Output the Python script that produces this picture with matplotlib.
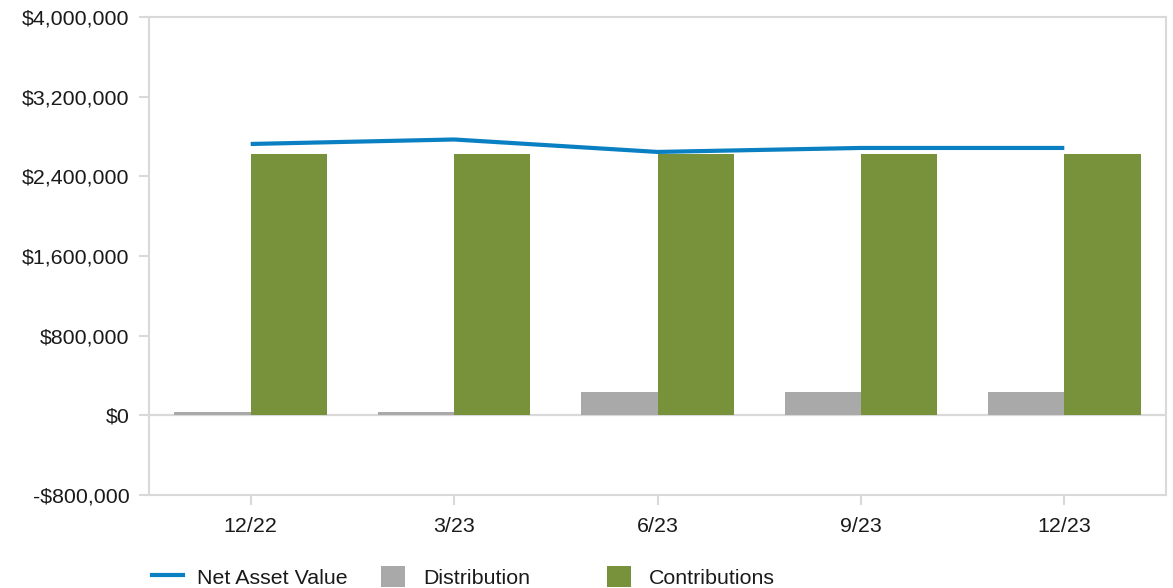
import matplotlib
matplotlib.use("Agg")
import matplotlib.pyplot as plt
from matplotlib.lines import Line2D
from matplotlib.patches import Patch
from matplotlib.ticker import FuncFormatter

# Quarterly fund figures
quarters = ["12/22", "3/23", "6/23", "9/23", "12/23"]
net_asset_value = [2725000, 2770000, 2645000, 2685000, 2685000]
distribution = [35000, 35000, 235000, 235000, 235000]
contributions = [2625000, 2625000, 2625000, 2625000, 2625000]
y_ticks = [-800000, 0, 800000, 1600000, 2400000, 3200000, 4000000]

BLUE = "#0a80c2"
GRAY = "#a9a9a9"
GREEN = "#77923a"
AXIS_GRAY = "#d9d9d9"
TEXT = "#1a1a1a"
FS = 15.4

plt.rcParams["font.family"] = ["Liberation Sans", "DejaVu Sans"]

fig = plt.figure(figsize=(11.73, 5.88), dpi=100)
ax = fig.add_axes([149 / 1173, 1 - 495 / 588, (1166 - 149) / 1173, (495 - 17) / 588])

x = list(range(len(quarters)))
w = 0.375
ax.bar([i - w / 2 for i in x], distribution, width=w, color=GRAY, zorder=2)
ax.bar([i + w / 2 for i in x], contributions, width=w, color=GREEN, zorder=2)
ax.axhline(0, color=AXIS_GRAY, lw=1.6, zorder=1)
ax.plot(x, net_asset_value, color=BLUE, lw=3, zorder=3, solid_capstyle="butt")

ax.set_xlim(-0.5, len(quarters) - 0.5)
ax.set_ylim(y_ticks[0], y_ticks[-1])
ax.set_yticks(y_ticks)
ax.set_xticks(x)
ax.set_xticklabels(quarters)


def money(v, _pos):
    if v < 0:
        return "-${:,.0f}".format(-v)
    return "${:,.0f}".format(v)


ax.yaxis.set_major_formatter(FuncFormatter(money))

for s in ax.spines.values():
    s.set_color(AXIS_GRAY)
    s.set_linewidth(1.5)

ax.tick_params(axis="both", colors=AXIS_GRAY, labelcolor=TEXT, labelsize=FS,
               length=7, width=1.5)
ax.tick_params(axis="y", pad=7)
ax.tick_params(axis="x", pad=9)

# Legend entries laid out in fixed-width columns below the chart
entries = [
    (Line2D([], [], color=BLUE, lw=3), "Net Asset Value", 152, 1.45, 0.65),
    (Patch(facecolor=GRAY), "Distribution", 381, 1.12, 0.85),
    (Patch(facecolor=GREEN), "Contributions", 607, 1.12, 0.85),
]
for handle, label, xpix, hlen, tpad in entries:
    leg = fig.legend([handle], [label], loc="center left",
                     bbox_to_anchor=(xpix / 1173, 1 - 577 / 588),
                     bbox_transform=fig.transFigure, frameon=False,
                     fontsize=FS, borderpad=0, borderaxespad=0,
                     handlelength=hlen, handleheight=1.12, handletextpad=tpad)
    for t in leg.get_texts():
        t.set_color(TEXT)

fig.savefig("out.png", dpi=100)
